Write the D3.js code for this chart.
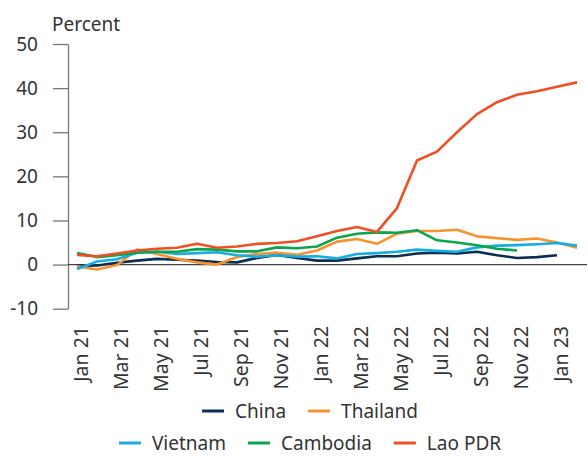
<!DOCTYPE html>
<html>
<head>
<meta charset="utf-8">
<script src="https://cdn.jsdelivr.net/npm/d3@7"></script>
<style>
  body { margin: 0; background: #fff; }
  text { font-family: "Noto Sans", sans-serif; fill: #333; }
</style>
</head>
<body>
<div id="chart"></div>
<script>
let width = 588;
let height = 456;

// Months, Jan 2021 .. Feb 2023
let months = ["Jan 21","Feb 21","Mar 21","Apr 21","May 21","Jun 21","Jul 21","Aug 21","Sep 21","Oct 21","Nov 21","Dec 21",
              "Jan 22","Feb 22","Mar 22","Apr 22","May 22","Jun 22","Jul 22","Aug 22","Sep 22","Oct 22","Nov 22","Dec 22",
              "Jan 23","Feb 23"];
let tickLabels = ["Jan 21","Mar 21","May 21","Jul 21","Sep 21","Nov 21","Jan 22","Mar 22","May 22","Jul 22","Sep 22","Nov 22","Jan 23"];
let yTicks = [-10, 0, 10, 20, 30, 40, 50];

// Inflation, percent (series may stop early)
let china    = [-0.3, -0.2, 0.4, 0.9, 1.3, 1.1, 0.9, 0.6, 0.5, 1.5, 2.2, 1.5, 0.9, 0.9, 1.4, 1.9, 1.9, 2.5, 2.7, 2.5, 2.9, 2.1, 1.5, 1.7, 2.1];
let thailand = [-0.4, -1.1, -0.1, 3.4, 2.4, 1.3, 0.5, 0.0, 1.7, 2.4, 2.7, 2.2, 3.2, 5.2, 5.8, 4.7, 7.0, 7.6, 7.6, 7.9, 6.4, 6.0, 5.6, 5.9, 5.0, 3.8];
let vietnam  = [-1.0, 0.7, 1.2, 2.7, 2.9, 2.4, 2.6, 2.8, 2.1, 1.8, 2.1, 1.8, 1.9, 1.4, 2.4, 2.6, 2.9, 3.4, 3.1, 2.9, 3.9, 4.3, 4.4, 4.6, 4.9, 4.3];
let cambodia = [2.6, 1.7, 2.1, 2.7, 2.9, 2.9, 3.5, 3.4, 3.0, 3.0, 3.9, 3.7, 4.1, 6.1, 7.0, 7.3, 7.2, 7.8, 5.5, 5.0, 4.4, 3.6, 3.2];
let lao      = [2.2, 1.9, 2.5, 3.2, 3.6, 3.8, 4.7, 3.8, 4.1, 4.7, 4.9, 5.3, 6.4, 7.6, 8.5, 7.4, 12.8, 23.6, 25.6, 30.0, 34.1, 36.8, 38.5, 39.3, 40.3, 41.3];

let seriesNames = ["China", "Thailand", "Vietnam", "Cambodia", "Lao PDR"];
let seriesValues = [china, thailand, vietnam, cambodia, lao];
let seriesColors = ["#0b2f52", "#f7922f", "#17ade4", "#0aa64f", "#f04e23"];

let series = seriesNames.map(function(name, i) {
    return { name: name, color: seriesColors[i], values: seriesValues[i] };
});

let svg = d3.select("#chart")
    .append("svg")
    .attr("width", width)
    .attr("height", height);

let xScale = d3.scalePoint()
    .domain(months)
    .range([77, 577]);

let yScale = d3.scaleLinear()
    .domain([-10, 50])
    .range([308.7, 44]);

// Y axis
let yAxis = d3.axisLeft(yScale)
    .tickValues(yTicks)
    .tickFormat(function(d) { return String(d); })  // plain hyphen, as in the original
    .tickSize(15)
    .tickPadding(15)
    .tickSizeOuter(0);

let gy = svg.append("g")
    .attr("transform", "translate(68,0)")
    .call(yAxis);
gy.select(".domain").attr("stroke", "#777").attr("stroke-width", 1.3);
gy.selectAll(".tick line").attr("stroke", "#777").attr("stroke-width", 1.3);
gy.selectAll(".tick text")
    .style("font-size", "19px")
    .attr("fill", "#333");

svg.append("text")
    .attr("x", 52)
    .attr("y", 31)
    .style("font-size", "19px")
    .text("Percent");

// Zero line
svg.append("line")
    .attr("x1", 68)
    .attr("x2", 587)
    .attr("y1", yScale(0))
    .attr("y2", yScale(0))
    .attr("stroke", "#444")
    .attr("stroke-width", 1.2);

// X labels (no axis line)
svg.append("g")
    .selectAll("text")
    .data(tickLabels)
    .join("text")
    .attr("transform", function(d) { return "translate(" + (xScale(d) + 4) + ",326) rotate(-90)"; })
    .attr("text-anchor", "end")
    .attr("dy", "0.35em")
    .style("font-size", "19.5px")
    .text(function(d) { return d; });

// Lines
let line = d3.line()
    .x(function(d, i) { return xScale(months[i]); })
    .y(function(d) { return yScale(d); });

svg.append("g")
    .selectAll("path")
    .data(series)
    .join("path")
    .attr("fill", "none")
    .attr("stroke", function(d) { return d.color; })
    .attr("stroke-width", 2.6)
    .attr("stroke-linejoin", "round")
    .attr("d", function(d) { return line(d.values); });

// Legend, two centred rows
let rows = [[0, 1], [2, 3, 4]];
let rowY = [411, 443];
let legendCenter = 310;

rows.forEach(function(row, r) {
    let g = svg.append("g");
    let x = 0;
    row.forEach(function(idx, k) {
        let s = series[idx];
        g.append("line")
            .attr("x1", x).attr("x2", x + 22)
            .attr("y1", rowY[r]).attr("y2", rowY[r])
            .attr("stroke", s.color)
            .attr("stroke-width", 3);
        let t = g.append("text")
            .attr("x", x + 33)
            .attr("y", rowY[r])
            .attr("dy", "0.35em")
            .style("font-size", "19px")
            .text(s.name);
        x += 33 + t.node().getComputedTextLength() + 22;
    });
    let total = x - 22;
    g.attr("transform", "translate(" + (legendCenter - total / 2) + ",0)");
});
</script>
</body>
</html>
